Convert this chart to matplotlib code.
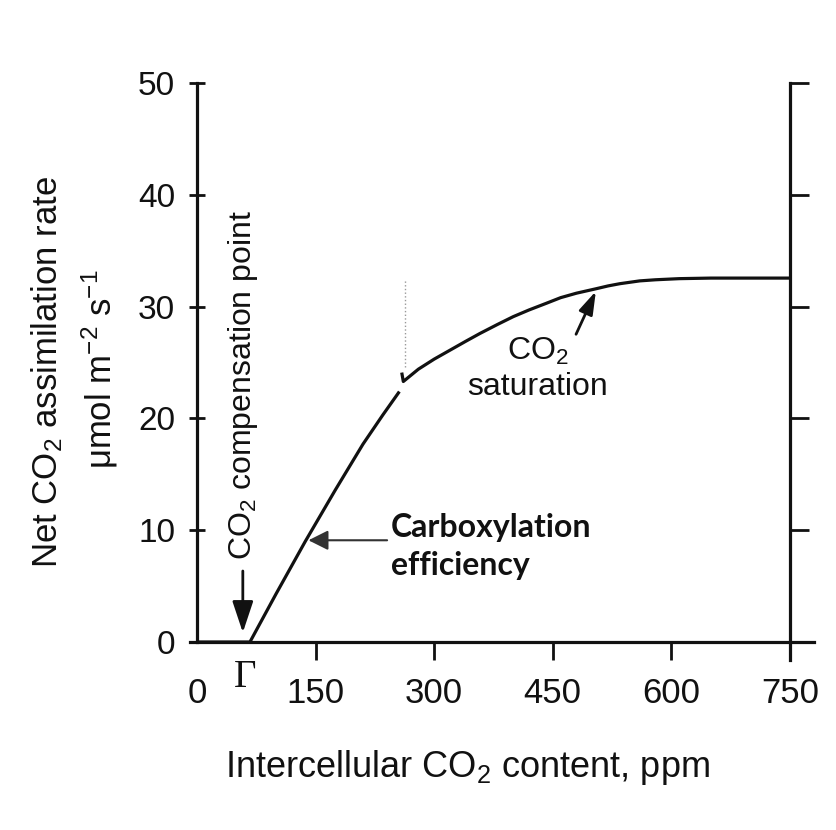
import matplotlib.pyplot as plt
from matplotlib.transforms import blended_transform_factory

plt.rcParams['font.family'] = ['Liberation Sans', 'DejaVu Sans']
plt.rcParams['mathtext.default'] = 'regular'

ink = '#111111'

# response curve (the scan has a small break near 260 ppm)
ci_low = [0, 67, 100, 137, 175, 210, 235, 256]
a_low = [0, 0, 4.3, 9.0, 13.6, 17.7, 20.3, 22.4]
ci_high = [259, 261, 280, 300, 320, 340, 358, 380, 400, 420, 442, 460, 480,
           505, 520, 535, 560, 580, 610, 650, 750]
a_high = [24.1, 23.3, 24.4, 25.3, 26.1, 26.9, 27.6, 28.4, 29.1, 29.7, 30.3,
          30.8, 31.2, 31.6, 31.85, 32.05, 32.3, 32.4, 32.5, 32.55, 32.55]

x_ticks = [0, 150, 300, 450, 600, 750]
y_ticks = [0, 10, 20, 30, 40, 50]
gamma_ci = 61

fig = plt.figure(figsize=(8.36, 8.30), dpi=100)
ax = fig.add_axes([0.2356, 0.2265, 0.7093, 0.6735])

ax.plot(ci_low, a_low, color=ink, lw=2.3, solid_capstyle='butt',
        solid_joinstyle='round')
ax.plot(ci_high, a_high, color=ink, lw=2.3, solid_capstyle='butt',
        solid_joinstyle='round')
# faint dotted scan mark above the break
ax.plot([263, 263], [24.6, 32.4], ls=':', color='#999999', lw=1)

ax.set_xlim(0, 750)
ax.set_ylim(0, 50)
ax.set_xticks(x_ticks)
ax.set_yticks(y_ticks)

for s in ['top', 'right']:
    ax.spines[s].set_visible(False)
for s in ['left', 'bottom']:
    ax.spines[s].set_linewidth(2.3)
    ax.spines[s].set_color(ink)
ax.spines['bottom'].set_bounds(-9, 780)

ax.tick_params(axis='y', direction='inout', length=11.5, width=2, pad=10,
               labelsize=24, colors=ink)
ax.tick_params(axis='x', direction='out', length=13, width=2, pad=12,
               labelsize=25, colors=ink)
ax.xaxis.get_major_ticks()[0].tick1line.set_visible(False)

ax2 = ax.twinx()
ax2.set_ylim(0, 50)
ax2.set_yticks(y_ticks)
for s in ['left', 'top', 'bottom']:
    ax2.spines[s].set_visible(False)
ax2.spines['right'].set_linewidth(2.3)
ax2.spines['right'].set_color(ink)
ax2.spines['right'].set_bounds(-1.6, 50)
ax2.tick_params(axis='y', direction='out', length=14, width=2, labelright=False,
                colors=ink)

# Gamma under the axis at the compensation point
trans = blended_transform_factory(ax.transData, ax.transAxes)
ax.text(gamma_ci, -0.03, 'Γ', transform=trans, ha='center', va='top',
        fontsize=28, family='Liberation Serif', color=ink)

# compensation point
ax.text(58, 23, 'CO$_2$ compensation point', rotation=90, ha='center',
        va='center', fontsize=23, color=ink)
ax.annotate('', xy=(58, 0.6), xytext=(58, 6.6),
            arrowprops=dict(arrowstyle='-|>,head_length=0.6,head_width=0.2',
                            color=ink, lw=2, mutation_scale=32))

# carboxylation efficiency
ax.annotate('', xy=(137.5, 9.1), xytext=(244, 9.1),
            arrowprops=dict(arrowstyle='-|>,head_length=0.6,head_width=0.3',
                            color='#333333', lw=1.5, mutation_scale=20))
ax.text(245, 9.4, 'Carboxylation', ha='left', va='baseline', fontsize=23,
        family='Lato', weight='bold', color=ink)
ax.text(245, 6.0, 'efficiency', ha='left', va='baseline', fontsize=23,
        family='Lato', weight='bold', color=ink)

# saturation
ax.annotate('', xy=(506, 31.6), xytext=(478, 27.3),
            arrowprops=dict(arrowstyle='-|>,head_length=0.7,head_width=0.22',
                            color=ink, lw=2, mutation_scale=20))
ax.text(431, 26.0, 'CO$_2$', ha='center', va='center', fontsize=23, color=ink)
ax.text(431, 22.8, 'saturation', ha='center', va='center', fontsize=23, color=ink)

fig.text(47 / 836, 0.552, 'Net CO$_2$ assimilation rate', rotation=90,
         ha='center', va='center', fontsize=25, color=ink)
fig.text(100 / 836, 0.555, 'μmol m$^{-2}$ s$^{-1}$', rotation=90,
         ha='center', va='center', fontsize=25, color=ink)
fig.text(467 / 836, 1 - 767 / 830, 'Intercellular CO$_2$ content, ppm',
         ha='center', va='center', fontsize=26, color=ink)

fig.savefig('out.png', dpi=100)
